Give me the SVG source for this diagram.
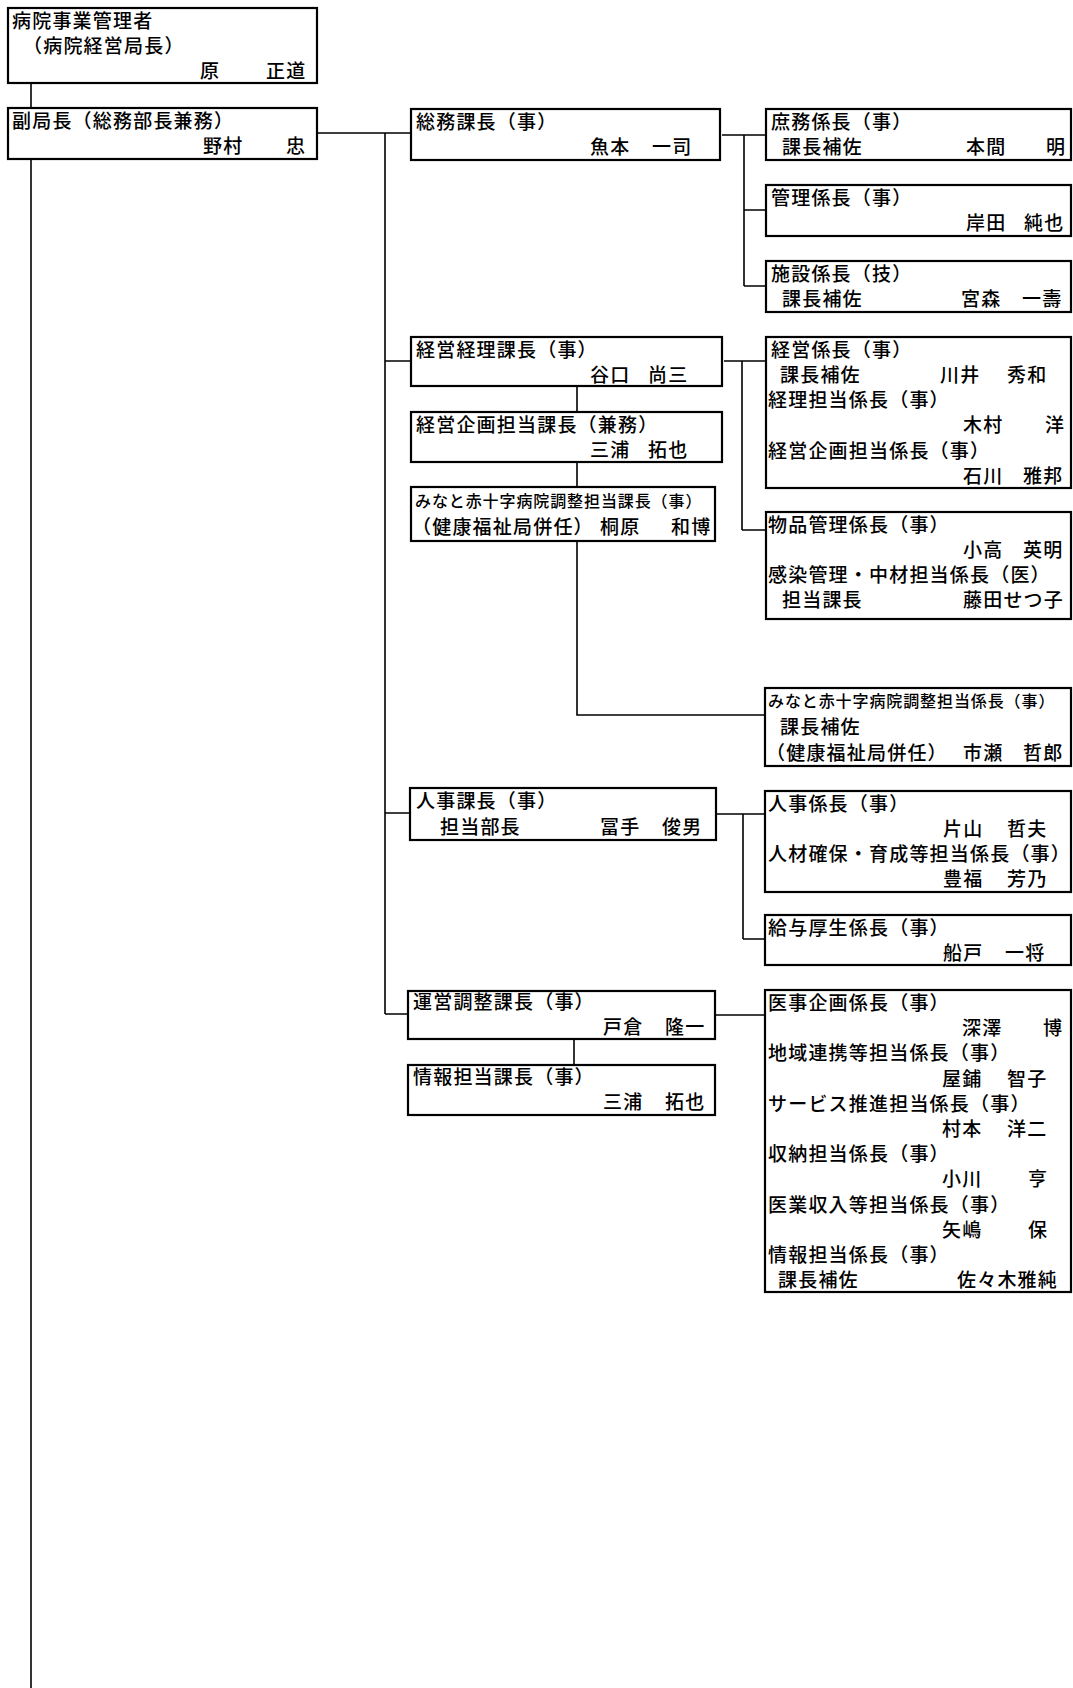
<svg xmlns="http://www.w3.org/2000/svg" width="1073" height="1688" viewBox="0 0 1073 1688">
<style>
.bg{fill:#ffffff}
.box{fill:#ffffff;stroke:#000000;stroke-width:2.2}
.ln{fill:none;stroke:#000000;stroke-width:1.6}
text{font-family:"Noto Sans CJK JP","Noto Sans CJK SC",sans-serif;font-size:19px;font-weight:500;letter-spacing:1.2px;fill:#000000}
.sm{font-size:16px;letter-spacing:0.9px}
</style>
<rect class="bg" x="0" y="0" width="1073" height="1688"/>
<g id="connectors">
<path class="ln" d="M31 83 V108"/>
<path class="ln" d="M31 159 V1688"/>
<path class="ln" d="M317 133 H385 M385 133 V1014 M385 133 H411 M385 361 H411 M385 813 H410 M385 1014 H408"/>
<path class="ln" d="M722 135 H744 M744 135 V286 M744 135 H766 M744 210 H766 M744 286 H766"/>
<path class="ln" d="M724 361 H742 M742 361 V530 M742 361 H766 M742 530 H766"/>
<path class="ln" d="M577 386 V412 M577 462 V487 M577 541 V715 H765"/>
<path class="ln" d="M715 814 H743 M743 814 V939 M743 814 H765 M743 939 H765"/>
<path class="ln" d="M715 1015 H765"/>
<path class="ln" d="M574 1039 V1065"/>
</g>
<g id="n-kanrisha">
<rect class="box" x="8" y="8" width="309" height="75"/>
<text x="12" y="28">病院事業管理者</text>
<text x="23" y="53">（病院経営局長）</text>
<text x="200" y="78">原 <tspan x="266">正道</tspan></text>
</g>
<g id="n-fukukyokucho">
<rect class="box" x="8" y="108" width="309" height="51"/>
<text x="12" y="128">副局長（総務部長兼務）</text>
<text x="203" y="153">野村 <tspan x="286">忠</tspan></text>
</g>
<g id="n-somu">
<rect class="box" x="411" y="109" width="309" height="51"/>
<text x="416" y="129">総務課長（事）</text>
<text x="590" y="154">魚本 <tspan x="652">一司</tspan></text>
</g>
<g id="n-shomu">
<rect class="box" x="766" y="109" width="305" height="51"/>
<text x="771" y="129">庶務係長（事）</text>
<text x="782" y="154">課長補佐</text>
<text x="966" y="154">本間 <tspan x="1046">明</tspan></text>
</g>
<g id="n-kanri">
<rect class="box" x="766" y="185" width="305" height="51"/>
<text x="771" y="205">管理係長（事）</text>
<text x="966" y="230">岸田 <tspan x="1024">純也</tspan></text>
</g>
<g id="n-shisetsu">
<rect class="box" x="766" y="261" width="305" height="51"/>
<text x="771" y="281">施設係長（技）</text>
<text x="782" y="306">課長補佐</text>
<text x="961" y="306">宮森 <tspan x="1022">一壽</tspan></text>
</g>
<g id="n-keieikeiri">
<rect class="box" x="411" y="337" width="311" height="49"/>
<text x="416" y="357">経営経理課長（事）</text>
<text x="590" y="382">谷口 <tspan x="648">尚三</tspan></text>
</g>
<g id="n-keieikikaku">
<rect class="box" x="411" y="412" width="311" height="50"/>
<text x="416" y="432">経営企画担当課長（兼務）</text>
<text x="590" y="457">三浦 <tspan x="648">拓也</tspan></text>
</g>
<g id="n-minato-kacho">
<rect class="box" x="411" y="487" width="304" height="54"/>
<text class="sm" x="415" y="507">みなと赤十字病院調整担当課長（事）</text>
<text x="412" y="534">（健康福祉局併任）<tspan x="600">桐原</tspan> <tspan x="671">和博</tspan></text>
</g>
<g id="n-keiei">
<rect class="box" x="766" y="337" width="305" height="151"/>
<text x="771" y="357">経営係長（事）</text>
<text x="780" y="382">課長補佐</text>
<text x="940" y="382">川井 <tspan x="1007">秀和</tspan></text>
<text x="768" y="407">経理担当係長（事）</text>
<text x="963" y="432">木村 <tspan x="1045">洋</tspan></text>
<text x="768" y="458">経営企画担当係長（事）</text>
<text x="963" y="483">石川 <tspan x="1023">雅邦</tspan></text>
</g>
<g id="n-buppin">
<rect class="box" x="766" y="512" width="305" height="107"/>
<text x="768" y="532">物品管理係長（事）</text>
<text x="963" y="557">小高 <tspan x="1023">英明</tspan></text>
<text x="768" y="582">感染管理・中材担当係長（医）</text>
<text x="782" y="607">担当課長</text>
<text x="963" y="607">藤田せつ子</text>
</g>
<g id="n-minato-kakaricho">
<rect class="box" x="765" y="688" width="306" height="78"/>
<text class="sm" x="768" y="707">みなと赤十字病院調整担当係長（事）</text>
<text x="780" y="734">課長補佐</text>
<text x="766" y="760">（健康福祉局併任）<tspan x="963">市瀬</tspan> <tspan x="1023">哲郎</tspan></text>
</g>
<g id="n-jinji-kacho">
<rect class="box" x="410" y="788" width="306" height="52"/>
<text x="416" y="808">人事課長（事）</text>
<text x="440" y="834">担当部長</text>
<text x="600" y="834">冨手 <tspan x="662">俊男</tspan></text>
</g>
<g id="n-jinji-kakaricho">
<rect class="box" x="765" y="791" width="306" height="101"/>
<text x="768" y="811">人事係長（事）</text>
<text x="943" y="836">片山 <tspan x="1007">哲夫</tspan></text>
<text x="768" y="861">人材確保・育成等担当係長（事）</text>
<text x="943" y="886">豊福 <tspan x="1007">芳乃</tspan></text>
</g>
<g id="n-kyuyo">
<rect class="box" x="765" y="915" width="306" height="50"/>
<text x="768" y="935">給与厚生係長（事）</text>
<text x="943" y="960">船戸 <tspan x="1005">一将</tspan></text>
</g>
<g id="n-uneichosei">
<rect class="box" x="408" y="991" width="307" height="48"/>
<text x="413" y="1009">運営調整課長（事）</text>
<text x="603" y="1034">戸倉 <tspan x="665">隆一</tspan></text>
</g>
<g id="n-joho-kacho">
<rect class="box" x="408" y="1065" width="307" height="50"/>
<text x="413" y="1084">情報担当課長（事）</text>
<text x="603" y="1109">三浦 <tspan x="665">拓也</tspan></text>
</g>
<g id="n-iji">
<rect class="box" x="765" y="990" width="306" height="302"/>
<text x="768" y="1010">医事企画係長（事）</text>
<text x="962" y="1035">深澤 <tspan x="1043">博</tspan></text>
<text x="768" y="1060">地域連携等担当係長（事）</text>
<text x="942" y="1086">屋鋪 <tspan x="1007">智子</tspan></text>
<text x="768" y="1111">サービス推進担当係長（事）</text>
<text x="942" y="1136">村本 <tspan x="1007">洋二</tspan></text>
<text x="768" y="1161">収納担当係長（事）</text>
<text x="942" y="1186">小川 <tspan x="1028">亨</tspan></text>
<text x="768" y="1212">医業収入等担当係長（事）</text>
<text x="942" y="1237">矢嶋 <tspan x="1028">保</tspan></text>
<text x="768" y="1262">情報担当係長（事）</text>
<text x="778" y="1287">課長補佐</text>
<text x="957" y="1287">佐々木雅純</text>
</g>
</svg>
